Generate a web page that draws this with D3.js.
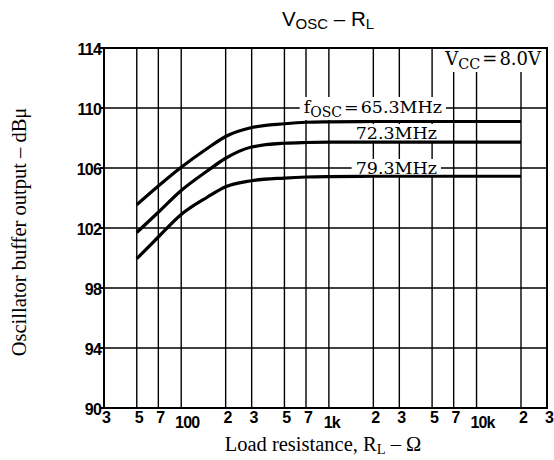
<!DOCTYPE html>
<html><head><meta charset="utf-8">
<script src="https://cdn.jsdelivr.net/npm/d3@7"></script>
<style>body{margin:0;background:#fff}</style>
</head><body>
<svg id="c" width="554" height="460"></svg>
<script>
// ---- data ----
const resistance = [50, 70, 100, 150, 200, 300, 500, 700, 1000, 2000, 5000, 10000, 20000];
const f653 = [103.55, 104.8, 106.05, 107.3, 108.1, 108.7, 108.95, 109.05, 109.08, 109.1, 109.1, 109.1, 109.1];
const f723 = [101.7, 103.05, 104.5, 105.8, 106.65, 107.4, 107.65, 107.7, 107.72, 107.72, 107.72, 107.72, 107.72];
const f793 = [99.95, 101.4, 102.9, 104.05, 104.75, 105.15, 105.33, 105.4, 105.43, 105.45, 105.45, 105.45, 105.45];
const yTicks = [90, 94, 98, 102, 106, 110, 114];
const xGrid = [30, 50, 70, 100, 200, 300, 500, 700, 1000, 2000, 3000, 5000, 7000, 10000, 20000, 30000];
const xTickLabels = ["3", "5", "7", "100", "2", "3", "5", "7", "1k", "2", "3", "5", "7", "10k", "2", "3"];

const svg = d3.select("#c");
const x = d3.scaleLog().domain([30, 30000]).range([104, 547]);
const y = d3.scaleLinear().domain([90, 114]).range([408, 48]);
const [x0, x1] = x.range(), [y0, y1] = y.range();

// grid
const g = svg.append("g").attr("stroke", "#000").attr("stroke-width", 1.4);
g.selectAll("line.v").data(xGrid.slice(1, -1)).join("line")
  .attr("x1", d => x(d)).attr("x2", d => x(d)).attr("y1", y1).attr("y2", y0);
g.selectAll("line.h").data(yTicks.slice(1, -1)).join("line")
  .attr("x1", x0).attr("x2", x1).attr("y1", d => y(d)).attr("y2", d => y(d));

// label boxes & labels
const serif = "'DejaVu Serif', serif";
function label(xp, yp, parts, anchor, size) {
  const t = svg.append("text").attr("x", xp).attr("y", yp)
    .attr("font-family", serif).attr("font-size", size).attr("text-anchor", anchor).attr("fill", "#000");
  parts.forEach(p => {
    const ts = t.append("tspan").text(p.t);
    if (p.sub) ts.attr("font-size", size * 0.8).attr("dy", 4);
    if (p.up) ts.attr("dy", -4);
    if (p.dx) ts.attr("dx", p.dx);
  });
  return t;
}
function boxed(t, px, py) {
  const b = t.node().getBBox();
  svg.insert("rect", () => t.node())
    .attr("x", b.x - px).attr("y", b.y - py).attr("width", b.width + 2 * px).attr("height", b.height + 2 * py)
    .attr("fill", "#fff");
}
const l1 = label(442, 113, [{t: "f"}, {t: "OSC", sub: true}, {t: "=", up: true, dx: 2}, {t: "65.3MHz", dx: 2}], "end", 17.5);
boxed(l1, 4, 0);
const l2 = label(437, 139, [{t: "72.3MHz"}], "end", 17.5);
boxed(l2, 2, -1);
const l3 = label(437, 174, [{t: "79.3MHz"}], "end", 17.5);
boxed(l3, 4, -1);
const l4 = label(541, 65, [{t: "V"}, {t: "CC", sub: true}, {t: "=", up: true, dx: 2}, {t: "8.0V", dx: 2}], "end", 18);
svg.insert("rect", () => l4.node()).attr("x", 437).attr("y", y1).attr("width", x1 - 437).attr("height", 24).attr("fill", "#fff");

// border
svg.append("rect").attr("x", x0).attr("y", y1).attr("width", x1 - x0).attr("height", y0 - y1)
  .attr("fill", "none").attr("stroke", "#000").attr("stroke-width", 2);

// y ticks
svg.append("g").selectAll("line").data(yTicks).join("line")
  .attr("x1", x0 - 4).attr("x2", x0).attr("y1", d => y(d)).attr("y2", d => y(d))
  .attr("stroke", "#000").attr("stroke-width", 2);
svg.append("g").selectAll("text").data(yTicks).join("text")
  .attr("x", x0 - 3).attr("y", d => y(d) + 1.5).attr("dy", "0.35em").attr("text-anchor", "end")
  .attr("font-family", "'Liberation Sans', Arial, sans-serif").attr("font-weight", "bold").attr("font-size", 16)
  .attr("letter-spacing", -0.8).text(d => d);

// x tick labels
svg.append("g").selectAll("text").data(xGrid).join("text")
  .attr("x", (d, i) => x(d) + (xTickLabels[i].length > 1 ? 3 + (xTickLabels[i].length - 2) * 3 : 2))
  .attr("y", (d, i) => xTickLabels[i].length > 1 ? 428 : 423)
  .attr("text-anchor", "middle")
  .attr("font-family", "'Liberation Sans', Arial, sans-serif").attr("font-weight", "bold").attr("font-size", 16)
  .attr("letter-spacing", -0.8).text((d, i) => xTickLabels[i]);

// curves
const line = d3.line().x(d => x(d[0])).y(d => y(d[1])).curve(d3.curveMonotoneX);
[f653, f723, f793].forEach(s => {
  svg.append("path").datum(resistance.map((r, i) => [r, s[i]])).attr("d", line)
    .attr("fill", "none").attr("stroke", "#000").attr("stroke-width", 3.2);
});

// title
const title = svg.append("text").attr("x", 328).attr("y", 26).attr("text-anchor", "middle")
  .attr("font-family", "'Liberation Sans', Arial, sans-serif").attr("font-size", 20.5).attr("fill", "#000");
title.append("tspan").text("V");
title.append("tspan").text("OSC").attr("font-size", 15).attr("dy", 3);
title.append("tspan").text(" – R").attr("dy", -3);
title.append("tspan").text("L").attr("font-size", 15).attr("dy", 3);

// x axis title
const xt = svg.append("text").attr("x", 323).attr("y", 451).attr("text-anchor", "middle")
  .attr("font-family", "'Liberation Serif', 'Times New Roman', serif").attr("font-size", 20.5).attr("fill", "#000");
xt.append("tspan").text("Load resistance, R");
xt.append("tspan").text("L").attr("font-size", 14.5).attr("dy", 3);
xt.append("tspan").text(" – Ω").attr("dy", -3);

// y axis title
svg.append("text").attr("transform", "translate(26,232) rotate(-90)").attr("text-anchor", "middle")
  .attr("font-family", "'Liberation Serif', 'Times New Roman', serif").attr("font-size", 20.5).attr("fill", "#000")
  .text("Oscillator buffer output – dBμ");
</script>
</body></html>
